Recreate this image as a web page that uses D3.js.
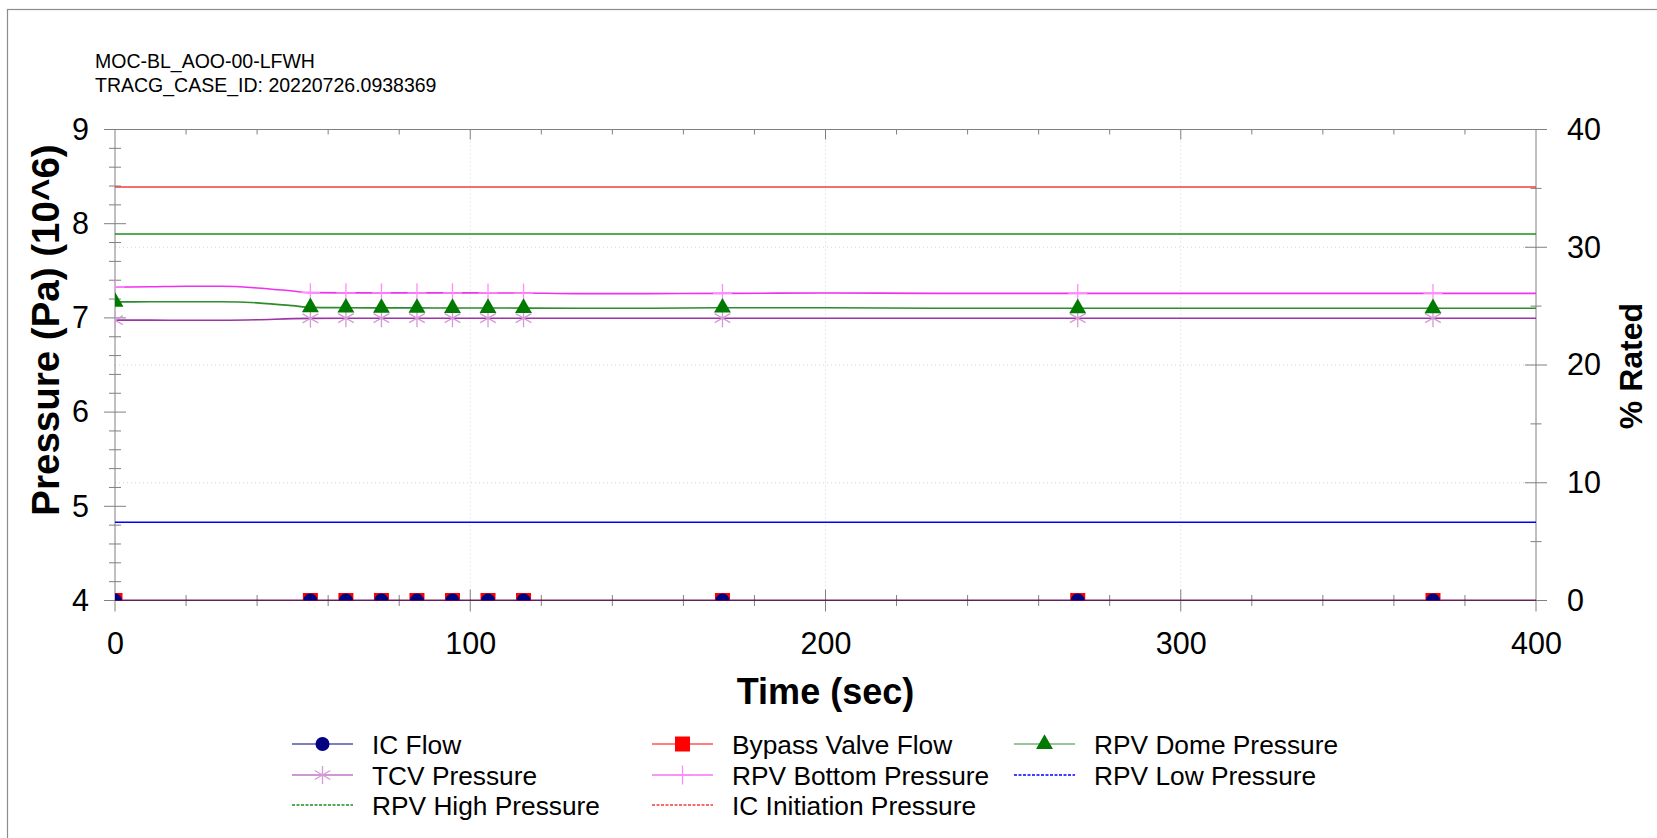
<!DOCTYPE html>
<html>
<head>
<meta charset="utf-8">
<script src="https://cdn.jsdelivr.net/npm/d3@7"></script>
<style>
  body { margin: 0; background: #fff; }
  svg { display: block; }
  text { font-family: "Liberation Sans", Arial, sans-serif; }
</style>
</head>
<body>
<svg id="chart" width="1657" height="838"></svg>
<script>
// Data
const curveTimes = [0, 10, 20, 30, 40, 50, 55, 65, 75, 85, 95, 105, 115, 130, 150, 171, 200, 230, 271, 300, 340, 371, 400];
const markerTimes = [0, 55, 65, 75, 85, 95, 105, 115, 171, 271, 371];

const domePressure   = [7.170, 7.171, 7.172, 7.171, 7.160, 7.130, 7.112, 7.108, 7.106, 7.106, 7.105, 7.105, 7.104, 7.103, 7.103, 7.108, 7.108, 7.103, 7.102, 7.102, 7.102, 7.102, 7.102];
const bottomPressure = [7.326, 7.330, 7.336, 7.336, 7.318, 7.285, 7.268, 7.266, 7.266, 7.266, 7.266, 7.265, 7.264, 7.258, 7.258, 7.260, 7.265, 7.260, 7.260, 7.260, 7.260, 7.260, 7.260];
const tcvPressure    = [6.976, 6.976, 6.975, 6.975, 6.980, 6.992, 6.995, 6.997, 6.997, 6.997, 6.997, 6.997, 6.997, 6.997, 6.997, 6.997, 6.997, 6.997, 6.997, 6.997, 6.997, 6.997, 6.997];
const icFlow         = [0, 0, 0, 0, 0, 0, 0, 0, 0, 0, 0, 0, 0, 0, 0, 0, 0, 0, 0, 0, 0, 0, 0];
const bypassFlow     = [0, 0, 0, 0, 0, 0, 0, 0, 0, 0, 0, 0, 0, 0, 0, 0, 0, 0, 0, 0, 0, 0, 0];

const limitTimes = [0, 400];
const rpvHighPressure = [7.89, 7.89];
const icInitPressure  = [8.39, 8.39];
const rpvLowPressure  = [4.83, 4.83];

const timeTicks  = [0, 100, 200, 300, 400];
const leftTicks  = [4, 5, 6, 7, 8, 9];
const rightTicks = [0, 10, 20, 30, 40];

const headerLines = ["MOC-BL_AOO-00-LFWH", "TRACG_CASE_ID: 20220726.0938369"];

// Layout
const W = 1657, H = 838;
const plot = { left: 115, right: 1536, top: 129.5, bottom: 600.5 };
const axisColor = "#808080";

const svg = d3.select("#chart");

const x = d3.scaleLinear().domain([0, 400]).range([plot.left, plot.right]);
const yL = d3.scaleLinear().domain([4, 9]).range([plot.bottom, plot.top]);
const yR = d3.scaleLinear().domain([0, 40]).range([plot.bottom, plot.top]);

// outer frame
svg.append("rect")
  .attr("x", 7.5).attr("y", 9.5)
  .attr("width", W + 50).attr("height", H + 50)
  .attr("fill", "none").attr("stroke", "#8c8c8c").attr("stroke-width", 1.2);

// header
svg.selectAll("text.header")
  .data(headerLines)
  .enter().append("text")
  .attr("class", "header")
  .attr("x", 95)
  .attr("y", (d, i) => 68 + i * 23.5)
  .style("font-size", "19.5px")
  .text(d => d);

// grid (dotted)
const grid = svg.append("g").attr("stroke", "#d4d4d4").attr("stroke-dasharray", "1,3");
grid.selectAll("line.v")
  .data(timeTicks.slice(1, -1))
  .enter().append("line")
  .attr("x1", d => x(d)).attr("x2", d => x(d))
  .attr("y1", plot.top).attr("y2", plot.bottom);
grid.selectAll("line.h")
  .data(rightTicks.slice(1, -1))
  .enter().append("line")
  .attr("x1", plot.left).attr("x2", plot.right)
  .attr("y1", d => yR(d)).attr("y2", d => yR(d));

// minor ticks
function minor(scale, step, majors) {
  const [a, b] = scale.domain();
  return d3.range(a, b + step / 2, step).filter(v => !majors.some(m => Math.abs(m - v) < 1e-6));
}
const minorT = minor(x, 20, timeTicks);
const minorL = minor(yL, 0.2, leftTicks);
const minorR = minor(yR, 5, rightTicks);

const ticks = svg.append("g").attr("stroke", axisColor).attr("stroke-width", 1);
// frame lines
ticks.append("rect")
  .attr("x", plot.left).attr("y", plot.top)
  .attr("width", plot.right - plot.left).attr("height", plot.bottom - plot.top)
  .attr("fill", "none");

// left
ticks.selectAll("line.lmaj").data(leftTicks).enter().append("line")
  .attr("x1", plot.left - 11).attr("x2", plot.left + 11)
  .attr("y1", d => yL(d)).attr("y2", d => yL(d));
ticks.selectAll("line.lmin").data(minorL).enter().append("line")
  .attr("x1", plot.left - 6).attr("x2", plot.left + 6)
  .attr("y1", d => yL(d)).attr("y2", d => yL(d));
// right
ticks.selectAll("line.rmaj").data(rightTicks).enter().append("line")
  .attr("x1", plot.right - 11).attr("x2", plot.right + 11)
  .attr("y1", d => yR(d)).attr("y2", d => yR(d));
ticks.selectAll("line.rmin").data(minorR).enter().append("line")
  .attr("x1", plot.right - 5.5).attr("x2", plot.right + 5.5)
  .attr("y1", d => yR(d)).attr("y2", d => yR(d));
// bottom
ticks.selectAll("line.bmaj").data(timeTicks).enter().append("line")
  .attr("x1", d => x(d)).attr("x2", d => x(d))
  .attr("y1", d => (d === 0 || d === 400) ? plot.bottom : plot.bottom - 11).attr("y2", plot.bottom + 11);
ticks.selectAll("line.bmin").data(minorT).enter().append("line")
  .attr("x1", d => x(d)).attr("x2", d => x(d))
  .attr("y1", plot.bottom - 5.5).attr("y2", plot.bottom + 5.5);
// top (inside only)
ticks.selectAll("line.tmaj").data(timeTicks.slice(1, -1)).enter().append("line")
  .attr("x1", d => x(d)).attr("x2", d => x(d))
  .attr("y1", plot.top).attr("y2", plot.top + 10);
ticks.selectAll("line.tmin").data(minorT).enter().append("line")
  .attr("x1", d => x(d)).attr("x2", d => x(d))
  .attr("y1", plot.top).attr("y2", plot.top + 5);

// tick labels through d3 axes (lines hidden, drawn above)
const fmt = d3.format("d");
const gL = svg.append("g").attr("transform", `translate(${plot.left},0)`)
  .call(d3.axisLeft(yL).tickValues(leftTicks).tickFormat(fmt).tickSize(11).tickPadding(15));
const gR = svg.append("g").attr("transform", `translate(${plot.right},0)`)
  .call(d3.axisRight(yR).tickValues(rightTicks).tickFormat(fmt).tickSize(11).tickPadding(20));
const gB = svg.append("g").attr("transform", `translate(0,${plot.bottom})`)
  .call(d3.axisBottom(x).tickValues(timeTicks).tickFormat(fmt).tickSize(11).tickPadding(21));
[gL, gR, gB].forEach(g => {
  g.select(".domain").remove();
  g.selectAll(".tick line").remove();
  g.selectAll(".tick text")
    .attr("fill", "#000")
    .style("font-size", "30.5px")
    .style("font-family", '"Liberation Sans", Arial, sans-serif');
});

// axis titles
svg.append("text")
  .attr("x", (plot.left + plot.right) / 2).attr("y", 704)
  .attr("text-anchor", "middle")
  .style("font-size", "36px").style("font-weight", "bold")
  .text("Time (sec)");
svg.append("text")
  .attr("transform", "translate(59,330) rotate(-90)")
  .attr("text-anchor", "middle")
  .style("font-size", "38.5px").style("font-weight", "bold")
  .text("Pressure (Pa) (10^6)");
svg.append("text")
  .attr("transform", "translate(1642,366) rotate(-90)")
  .attr("text-anchor", "middle")
  .style("font-size", "32px").style("font-weight", "bold")
  .text("% Rated");

// series
svg.append("defs").append("clipPath").attr("id", "plotClip")
  .append("rect")
  .attr("x", plot.left).attr("y", plot.top)
  .attr("width", plot.right - plot.left).attr("height", plot.bottom - plot.top);

const series = [
  { name: "Bypass Valve Flow", t: curveTimes, v: bypassFlow, y: yR, color: "#ff0000", mcolor: "#ff0000", marker: "square" },
  { name: "IC Flow", t: curveTimes, v: icFlow, y: yR, color: "#000080", mcolor: "#000080", marker: "circle" },
  { name: "RPV Low Pressure", t: limitTimes, v: rpvLowPressure, y: yL, color: "#0000ff", dash: true },
  { name: "IC Initiation Pressure", t: limitTimes, v: icInitPressure, y: yL, color: "#f23c3c", dash: true },
  { name: "RPV High Pressure", t: limitTimes, v: rpvHighPressure, y: yL, color: "#1f8f1f", dash: true },
  { name: "TCV Pressure", t: curveTimes, v: tcvPressure, y: yL, color: "#9c35a6", mcolor: "#d59ad5", marker: "asterisk" },
  { name: "RPV Bottom Pressure", t: curveTimes, v: bottomPressure, y: yL, color: "#f030f0", mcolor: "#ff8cff", marker: "plus" },
  { name: "RPV Dome Pressure", t: curveTimes, v: domePressure, y: yL, color: "#2e8b2e", mcolor: "#007a00", marker: "triangle" }
];

const symbols = {
  circle: { type: d3.symbolCircle, size: 154, fill: true },
  square: { type: d3.symbolSquare, size: 225, fill: true },
  triangle: { type: d3.symbolTriangle, size: 124, fill: true },
  asterisk: { type: d3.symbolAsterisk, size: 229, fill: false },
  plus: { type: d3.symbolPlus, size: 120, fill: false }
};

function drawMarker(g, s, cx, cy) {
  const sym = symbols[s.marker];
  g.append("path")
    .attr("transform", `translate(${cx},${cy})`)
    .attr("d", d3.symbol(sym.type, sym.size)())
    .attr("fill", sym.fill ? s.mcolor : "none")
    .attr("stroke", sym.fill ? "none" : s.mcolor)
    .attr("stroke-width", 1.3);
}

const plotG = svg.append("g").attr("clip-path", "url(#plotClip)");
series.forEach(s => {
  const pts = s.t.map((t, i) => [t, s.v[i]]);
  const line = d3.line().x(d => x(d[0])).y(d => s.y(d[1])).curve(d3.curveMonotoneX);
  plotG.append("path")
    .attr("d", line(pts))
    .attr("fill", "none")
    .attr("stroke", s.color)
    .attr("stroke-width", 1.6);
});
series.filter(s => s.marker).forEach(s => {
  const g = plotG.append("g");
  s.t.forEach((t, i) => {
    if (markerTimes.includes(t)) drawMarker(g, s, x(t), s.y(s.v[i]));
  });
});

// legend
const legendItems = [
  { col: 0, row: 0, s: series[1] },
  { col: 1, row: 0, s: series[0] },
  { col: 2, row: 0, s: series[7] },
  { col: 0, row: 1, s: series[5] },
  { col: 1, row: 1, s: series[6] },
  { col: 2, row: 1, s: series[2] },
  { col: 0, row: 2, s: series[4] },
  { col: 1, row: 2, s: series[3] }
];
const legendCols = [292, 652, 1014];
const legendRows = [744, 775, 805];
const lg = svg.append("g");
legendItems.forEach(it => {
  const x0 = legendCols[it.col], y0 = legendRows[it.row];
  lg.append("line")
    .attr("x1", x0).attr("x2", x0 + 61)
    .attr("y1", y0).attr("y2", y0)
    .attr("stroke", it.s.color)
    .attr("stroke-width", it.s.dash ? 1.6 : 1.2)
    .attr("stroke-dasharray", it.s.dash ? "3,1.5" : null);
  if (it.s.marker) drawMarker(lg, it.s, x0 + 30.5, y0);
  lg.append("text")
    .attr("x", x0 + 80).attr("y", y0 + 9.5)
    .style("font-size", "26.3px")
    .text(it.s.name);
});
</script>
</body>
</html>
